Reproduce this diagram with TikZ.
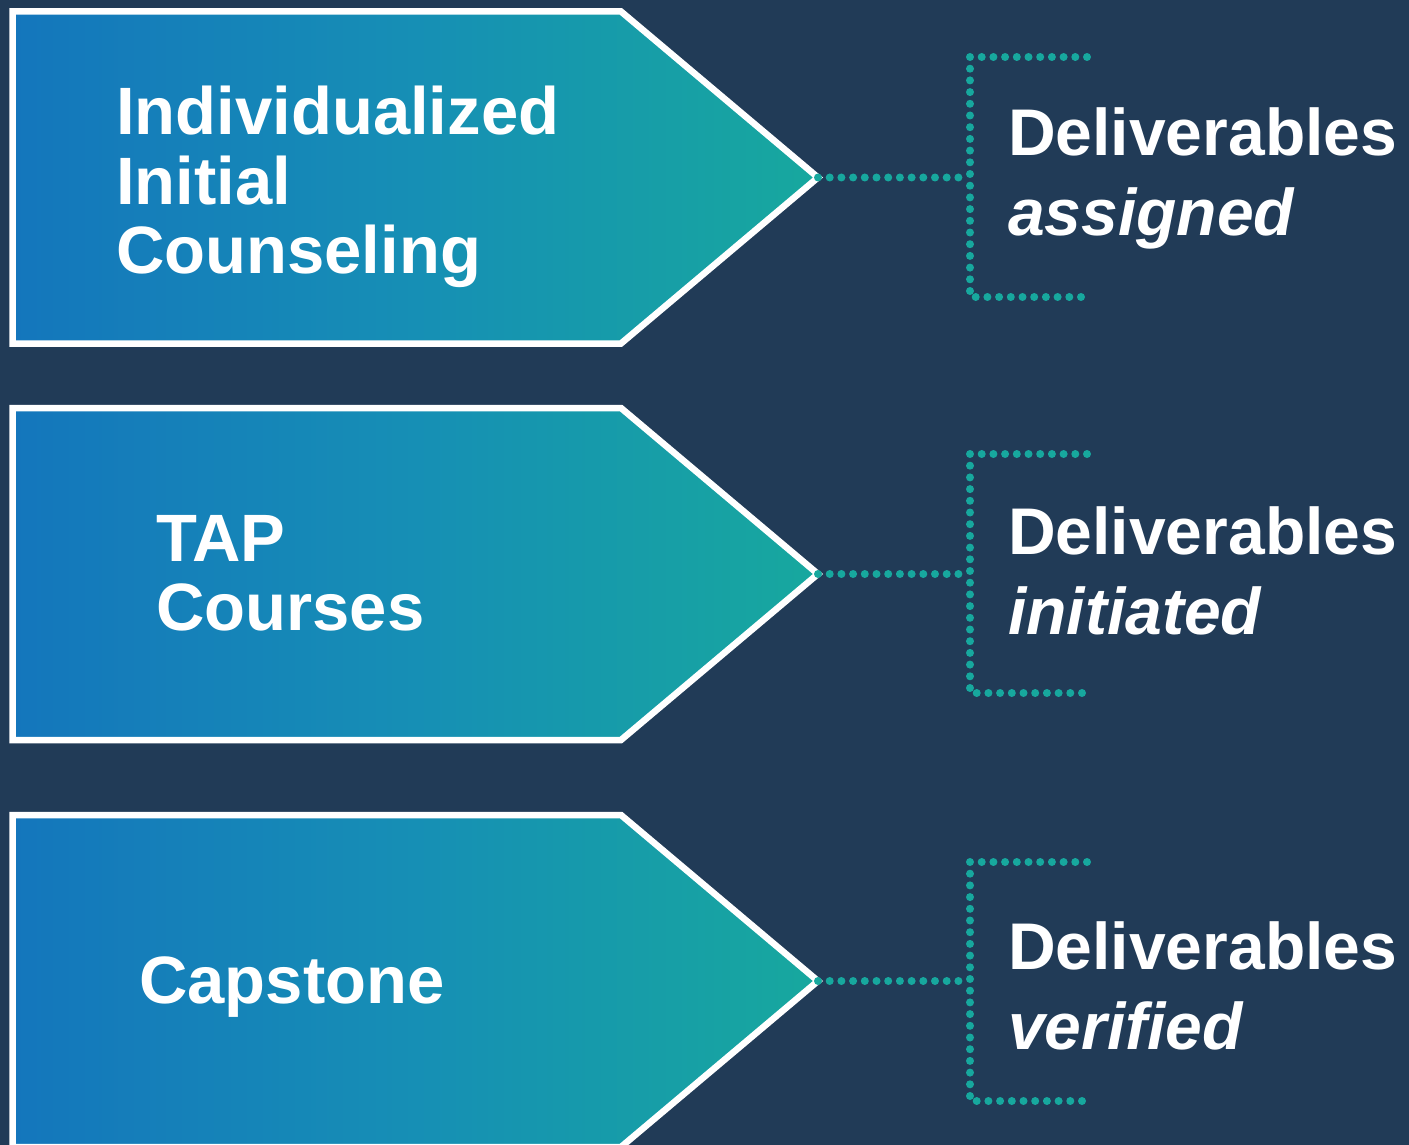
\documentclass[tikz,border=0pt]{standalone}
\usepackage{fontspec}
\setmainfont{Liberation Sans}
\usepackage{tikz}
\usetikzlibrary{decorations.markings}

\definecolor{navy}{HTML}{213B57}
\definecolor{stageblue}{HTML}{1476BC}
\definecolor{stagemid}{HTML}{168FB5}
\definecolor{stageteal}{HTML}{17A89E}

\begin{document}
\begin{tikzpicture}[
  x=1pt, y=-1pt,
  phase/.style={draw=white,line width=6.5pt,left color=stageblue,right color=stageteal,middle color=stagemid},
  stagetext/.style={anchor=north west,inner sep=0,text=white,align=left,font=\fontsize{67}{69.5}\selectfont\bfseries},
  resulttext/.style={stagetext,font=\fontsize{66}{80}\selectfont\bfseries},
  dots/.style={postaction={decorate},decoration={markings,
      mark=between positions 0 and 1 step 11.7pt with {\fill[stageteal] (0,0) circle (4pt);}}}
  ]

  \fill[navy] (0,0) rectangle (1409,1145);
  \useasboundingbox (0,0) rectangle (1409,1145);
  \clip (0,0) rectangle (1409,1145);

  % stages
  \shadedraw[phase] (12.5,11.5) -- (621,11.5) -- (818,177.5) -- (621,343.5) -- (12.5,343.5) -- cycle;
  \shadedraw[phase] (12.5,408) -- (621,408) -- (818,574) -- (621,740) -- (12.5,740) -- cycle;
  \shadedraw[phase] (12.5,815) -- (621,815) -- (818,981) -- (621,1147) -- (12.5,1147) -- cycle;
  \coordinate (tipA) at (818,177.5);
  \coordinate (tipB) at (818,574);
  \coordinate (tipC) at (818,981);

  \node [stagetext] (counsel) at (116,86) {Individualized\\Initial\\Counseling};
  \node [stagetext] (tap) at (156,515) {TAP\\Courses};
  \node [stagetext] (capstone) at (139,957) {Capstone};

  % deliverables
  \node [resulttext] (assigned) at (1008,107) {Deliverables\\\textit{assigned}};
  \node [resulttext] (initiated) at (1008,506) {Deliverables\\\textit{initiated}};
  \node [resulttext] (verified) at (1008,921) {Deliverables\\\textit{verified}};

  \coordinate (joinA) at (970,177.5);
  \coordinate (joinB) at (970,574);
  \coordinate (joinC) at (970,981);

  \path[dots] (tipA) -- (joinA);
  \path[dots] (1087,57) -- (970,57) -- (970,297) -- (1087,297);
  \path[dots] (tipB) -- (joinB);
  \path[dots] (1087,454) -- (970,454) -- (970,693) -- (1087,693);
  \path[dots] (tipC) -- (joinC);
  \path[dots] (1087,862) -- (970,862) -- (970,1101) -- (1087,1101);

\end{tikzpicture}
\end{document}
